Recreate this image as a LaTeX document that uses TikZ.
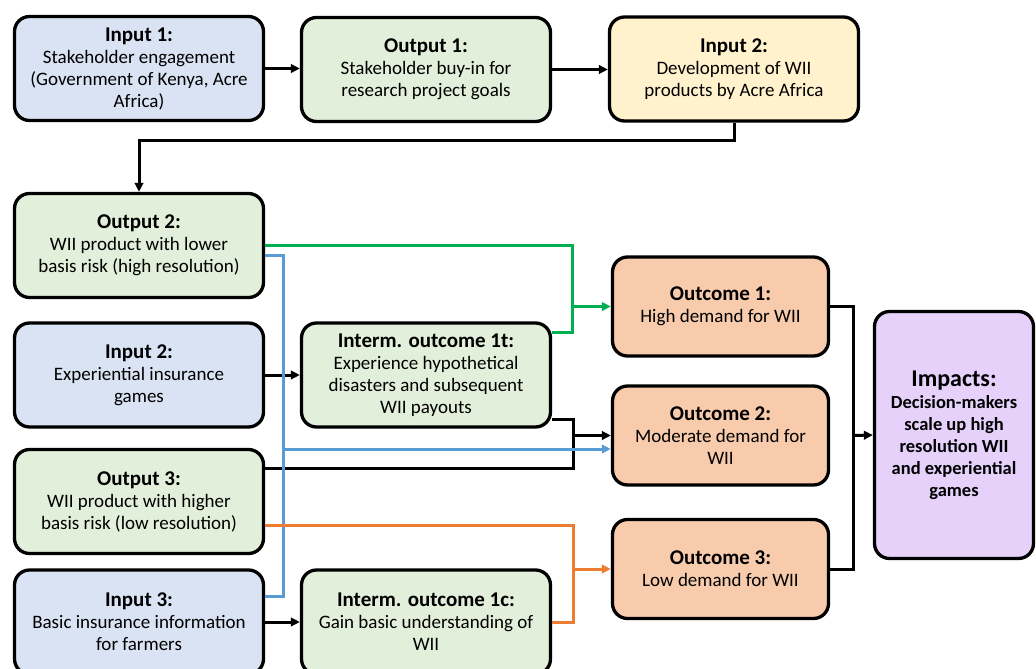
\documentclass[tikz,border=0pt]{standalone}
\usepackage{fontspec}
\setmainfont{Carlito}
\usepackage{xcolor}
\usetikzlibrary{arrows.meta,calc}

\definecolor{inblue}{HTML}{DAE3F3}
\definecolor{outgreen}{HTML}{E2EFDA}
\definecolor{inyellow}{HTML}{FFF2CC}
\definecolor{ocorange}{HTML}{F8CBAD}
\definecolor{impurple}{HTML}{E5D1FA}
\definecolor{lgreen}{HTML}{00B050}
\definecolor{lblue}{HTML}{5B9BD5}
\definecolor{lorange}{HTML}{ED7D31}

\newcommand{\boxtitle}[1]{{\bfseries\fontsize{21}{23}\selectfont #1}}

\tikzset{
    >={Triangle[length=9pt,width=8.5pt]},
    box/.style={draw, line width=3.3pt, rounded corners=15pt, align=center,
        minimum width=249pt, minimum height=104pt, inner sep=2pt,
        font=\fontsize{19}{22}\selectfont},
    ocbox/.style={box, fill=ocorange, minimum width=216pt, minimum height=99pt},
    link/.style={line width=3pt},
}

\begin{document}
\begin{tikzpicture}[x=1pt, y=-1pt]
    \useasboundingbox (0,0) rectangle (1036,669);
    \clip (0,0) rectangle (1036,669);

    % Top row
    \node[box, fill=inblue] (in1) at (139,68.5) {\boxtitle{Input 1:}\\Stakeholder engagement\\(Government of Kenya, Acre\\Africa)};
    \node[box, fill=outgreen] (out1) at (426,69.5) {\boxtitle{Output 1:}\\Stakeholder buy-in for\\research project goals};
    \node[box, fill=inyellow] (in2y) at (734,69) {\boxtitle{Input 2:}\\Development of WII\\products by Acre Africa};

    % Left column
    \node[box, fill=outgreen] (out2) at (139,245.5) {\boxtitle{Output 2:}\\WII product with lower\\basis risk (high resolution)};
    \node[box, fill=inblue] (in2) at (139,375) {\boxtitle{Input 2:}\\Experiential insurance\\games};
    \node[box, fill=outgreen] (out3) at (139,501.5) {\boxtitle{Output 3:}\\WII product with higher\\basis risk (low resolution)};
    \node[box, fill=inblue] (in3) at (139,622) {\boxtitle{Input 3:}\\Basic insurance information\\for farmers};

    % Intermediate outcomes
    \node[box, fill=outgreen] (im1t) at (426,375) {\boxtitle{Interm. outcome 1t:}\\Experience hypothetical\\disasters and subsequent\\WII payouts};
    \node[box, fill=outgreen] (im1c) at (426,622) {\boxtitle{Interm. outcome 1c:}\\Gain basic understanding of\\WII};

    % Outcomes
    \node[ocbox] (oc1) at (720.5,306.5) {\boxtitle{Outcome 1:}\\High demand for WII};
    \node[ocbox] (oc2) at (720.5,435.5) {\boxtitle{Outcome 2:}\\Moderate demand for\\WII};
    \node[ocbox] (oc3) at (720.5,569) {\boxtitle{Outcome 3:}\\Low demand for WII};

    % Impacts
    \node[box, fill=impurple, minimum width=159pt, minimum height=247pt, font=\bfseries\fontsize{18.5}{22}\selectfont] (impact) at (954,435)
        {{\fontsize{24}{28}\selectfont Impacts:}\\Decision-makers\\scale up high\\resolution WII\\and experiential\\games};

    % Bus points
    \coordinate (gbus) at (572,306.5);
    \coordinate (bbus) at (283,449);
    \coordinate (kbus) at (573,435.5);
    \coordinate (obus) at (573,569);
    \coordinate (rbus) at (853,435.5);

    % Black links
    \draw[link, ->] (in1.east) -- (out1.west |- in1.east);
    \draw[link, ->] (out1.east) -- (in2y.west |- out1.east);
    \draw[link, ->] (in2y.south) -- (734,140) -| (out2.north);
    \draw[link, ->] (in2.east) -- (im1t.west);
    \draw[link, ->] (in3.east) -- (im1c.west);
    \draw[link] (im1t.east |- 0,419) -| (kbus) |- (out3.east |- 0,468);
    \draw[link, ->] (kbus) -- (oc2.west);
    \draw[link] (oc1.east) -| (rbus) |- (oc3.east);
    \draw[link, ->] (rbus) -- (impact.west);

    % Green links
    \draw[link, lgreen, ->] (out2.east) -| (gbus) -- (oc1.west);
    \draw[link, lgreen] (im1t.east |- 0,332) -| (gbus);

    % Blue links
    \draw[link, lblue] (out2.east |- 0,255) -| (283,596) -- (in3.east |- 0,596);
    \draw[link, lblue, ->] (bbus) -- (oc2.west |- bbus);

    % Orange links
    \draw[link, lorange] (out3.east |- 0,525) -| (obus) |- (im1c.east);
    \draw[link, lorange, ->] (obus) -- (oc3.west);
\end{tikzpicture}
\end{document}
